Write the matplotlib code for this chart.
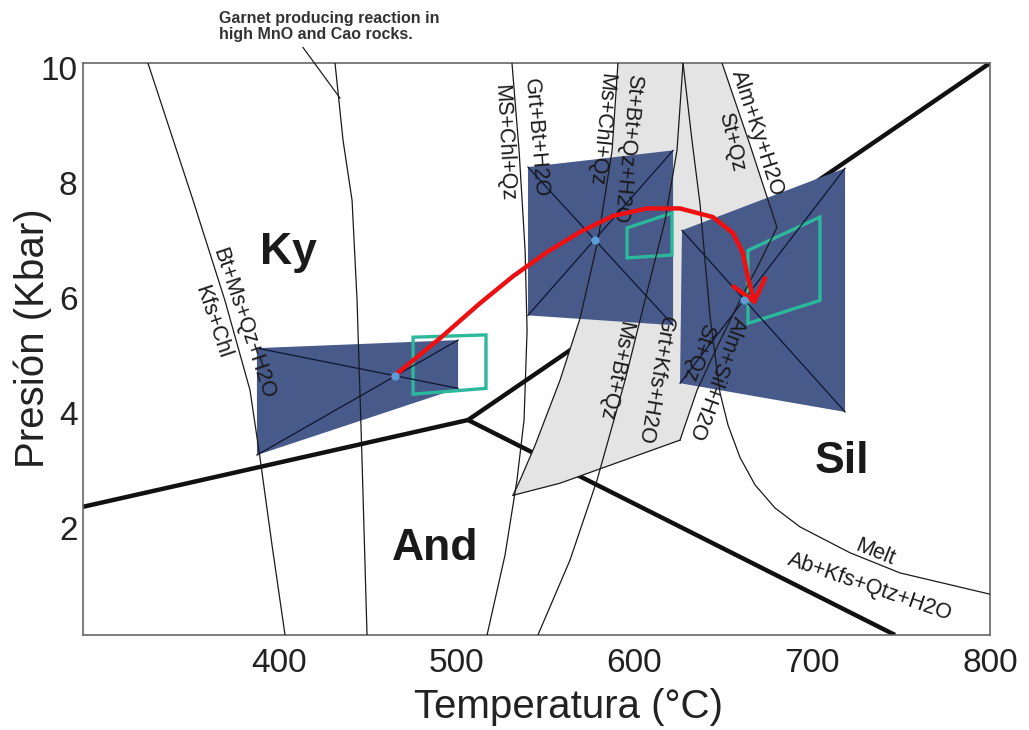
import matplotlib
matplotlib.use("Agg")
import matplotlib.pyplot as plt
from matplotlib.patches import Polygon, FancyArrowPatch
from matplotlib.path import Path

plt.rcParams['font.family'] = ['Liberation Sans', 'DejaVu Sans']

# ---- axes ----
T_LIM = (290, 800)
P_LIM = (0.14, 10.09)
x_ticks = [400, 500, 600, 700, 800]
y_ticks = [2, 4, 6, 8, 10]

# ---- Al2SiO5 triple point and univariant lines (T in C, P in kbar) ----
triple_point = (506.5, 3.88)
ky_and_end = (290.0, 2.37)
ky_sil_end = (800.0, 10.09)
and_sil_end = (746.6, 0.14)

# ---- reaction curves ----
bt_ms_T = [326.5, 351.9, 369.8, 383.9, 389.5, 396.3, 403.6]
bt_ms_P = [10.09, 7.70, 5.96, 4.40, 3.23, 1.70, 0.14]

garnet_T = [431.7, 436.2, 441.3, 444.1, 446.9, 449.7]
garnet_P = [10.09, 8.75, 7.70, 5.96, 3.18, 0.14]

chl_grt_T = [531.2, 535.2, 538.6, 539.7, 538.0, 534.0, 527.3, 517.2]
chl_grt_P = [10.09, 8.57, 6.83, 5.44, 3.88, 2.83, 1.53, 0.14]

st_in_T = [590.8, 587.5, 579.6, 569.5, 558.2, 544.2, 535.7, 531.8]
st_in_P = [10.09, 8.57, 7.01, 5.65, 4.57, 3.44, 2.83, 2.57]

ms_out_T = [627.4, 624.0, 617.3, 608.8, 594.8, 579.0, 563.8, 545.8]
ms_out_P = [10.09, 8.57, 7.35, 6.31, 4.57, 2.83, 1.44, 0.14]

melt_T = [627.4, 632.4, 636.9, 642.6, 648.2, 652.7, 659.4, 667.9, 679.1, 693.2, 721.3, 749.4, 800.0]
melt_P = [10.09, 8.75, 7.65, 5.67, 4.35, 3.79, 3.23, 2.75, 2.35, 2.02, 1.57, 1.22, 0.85]

st_out_T = [649.3, 665.1, 680.2, 670.7, 659.4, 647.0, 635.3, 625.7]
st_out_P = [10.09, 8.66, 7.23, 6.63, 5.96, 5.18, 4.40, 3.53]

band_base_T = [531.8, 558.2, 580.7, 625.7]
band_base_P = [2.57, 2.78, 3.03, 3.53]

# ---- P-T estimate boxes (corners: TL, TR, BR, BL) ----
box1_T = [387.8, 500.9, 500.9, 387.8]
box1_P = [5.13, 5.27, 4.43, 3.27]
box2_T = [540.2, 621.8, 621.8, 540.2]
box2_P = [8.28, 8.57, 5.53, 5.70]
box3_T = [626.8, 718.5, 718.5, 625.7]
box3_P = [7.18, 8.26, 4.02, 4.52]

# ---- inner windows ----
win1_T = [475.6, 516.6, 516.6, 475.6]
win1_P = [5.32, 5.36, 4.43, 4.33]
win2_T = [595.9, 621.2, 621.2, 595.9]
win2_P = [7.22, 7.48, 6.75, 6.70]
win3_T = [663.9, 704.4, 704.4, 663.9]
win3_P = [6.83, 7.41, 5.96, 5.56]

# ---- P-T path ----
path_T = [464.3, 490.7, 513.2, 531.8, 550.9, 569.5, 588.0, 607.1, 625.7, 644.2, 655.5, 661.1, 663.9, 667.9]
path_P = [4.63, 5.30, 5.91, 6.38, 6.80, 7.15, 7.43, 7.56, 7.56, 7.41, 7.13, 6.78, 6.36, 5.88]

BOX_COLOR = "#475a8a"
BAND_COLOR = "#e4e4e4"
WIN_COLOR = "#2bb89b"
PATH_COLOR = "#ee1010"
DOT_COLOR = "#5b9bd8"

fig = plt.figure(figsize=(10.29, 7.30), dpi=100)
ax = fig.add_axes([83 / 1029, 1 - 635 / 730, 907 / 1029, 572 / 730])
ax.set_xlim(*T_LIM)
ax.set_ylim(*P_LIM)

# grey staurolite band
band = list(zip(st_in_T, st_in_P)) + list(zip(band_base_T[1:], band_base_P[1:])) \
    + list(zip(st_out_T[::-1][1:], st_out_P[::-1][1:]))
ax.add_patch(Polygon(band, closed=True, facecolor=BAND_COLOR, edgecolor="none", zorder=1))

# Al2SiO5 phase boundaries
for end in (ky_and_end, ky_sil_end, and_sil_end):
    ax.plot([triple_point[0], end[0]], [triple_point[1], end[1]],
            color="#111111", lw=3.2, solid_capstyle="butt", zorder=0.5)


def diag_cross(bt, bp):
    # intersection of the two diagonals TL-BR and BL-TR
    x1, y1, x2, y2 = bt[0], bp[0], bt[2], bp[2]
    x3, y3, x4, y4 = bt[3], bp[3], bt[1], bp[1]
    d = (x1 - x2) * (y3 - y4) - (y1 - y2) * (x3 - x4)
    a = x1 * y2 - y1 * x2
    b = x3 * y4 - y3 * x4
    return ((a * (x3 - x4) - (x1 - x2) * b) / d, (a * (y3 - y4) - (y1 - y2) * b) / d)


for bt, bp in ((box1_T, box1_P), (box2_T, box2_P), (box3_T, box3_P)):
    ax.add_patch(Polygon(list(zip(bt, bp)), closed=True, facecolor=BOX_COLOR,
                         edgecolor="none", zorder=2))
    ax.plot([bt[0], bt[2]], [bp[0], bp[2]], color="#0d1530", lw=0.9, zorder=4)
    ax.plot([bt[3], bt[1]], [bp[3], bp[1]], color="#0d1530", lw=0.9, zorder=4)
    cx, cy = diag_cross(bt, bp)
    ax.plot(cx, cy, "o", ms=6, color=DOT_COLOR, mec="none", zorder=7)

for wt, wp in ((win1_T, win1_P), (win2_T, win2_P), (win3_T, win3_P)):
    ax.add_patch(Polygon(list(zip(wt, wp)), closed=True, facecolor="none",
                         edgecolor=WIN_COLOR, lw=2.4, zorder=3))

# thin reaction curves
for xs, ys in ((bt_ms_T, bt_ms_P), (garnet_T, garnet_P), (chl_grt_T, chl_grt_P),
               (st_in_T, st_in_P), (ms_out_T, ms_out_P), (melt_T, melt_P),
               (st_out_T, st_out_P), (band_base_T, band_base_P)):
    ax.plot(xs, ys, color="#1a1a1a", lw=0.9, zorder=4)

# P-T path arrow
ax.add_patch(FancyArrowPatch(path=Path(list(zip(path_T, path_P))),
                             arrowstyle="->,head_length=0.55,head_width=0.45",
                             mutation_scale=26, color=PATH_COLOR, lw=3.2,
                             zorder=6, joinstyle="round", capstyle="round"))

# stability field names
for name, t, p in (("Ky", 405.3, 6.80), ("And", 487.9, 1.65), ("Sil", 716.8, 3.15)):
    ax.text(t, p, name, fontsize=32, fontweight="bold", color="#1a1a1a",
            ha="center", va="center", zorder=5)

# reaction labels: (text, T, P, rotation)
reaction_labels = [
    ("Bt+Ms+Qz+H2O", 380.3, 5.55, -71.5),
    ("Kfs+Chl", 362.8, 5.58, -71.5),
    ("MS+Chl+Qz", 526.7, 8.70, -87),
    ("Grt+Bt+H2O", 544.2, 8.78, -85),
    ("Ms+Chl+Qz", 581.3, 8.94, -96),
    ("St+Bt+Qz+H2O", 595.9, 8.61, -96),
    ("Alm+Ky+H2O", 669.0, 8.87, -72),
    ("St+Qz", 654.4, 8.71, -77),
    ("Grt+Kfs+H2O", 611.6, 4.57, -100),
    ("Ms+Bt+Qz", 589.1, 4.73, -102),
    ("Alm+Sil+H2O", 646.5, 4.61, -110),
    ("St+Qz", 635.8, 5.06, -110),
    ("Melt", 735.3, 1.57, -22),
    ("Ab+Kfs+Qtz+H2O", 732.5, 0.97, -19),
]
for txt, t, p, rot in reaction_labels:
    ax.text(t, p, txt, fontsize=15.5, rotation=rot, rotation_mode="anchor",
            ha="center", va="center", color="#1a1a1a", zorder=5)

# garnet reaction note with leader line
ax.plot([413.7, 434.5], [10.36, 9.48], color="#222222", lw=0.9, clip_on=False, zorder=5)
fig.text(219 / 1029, 1 - 11 / 730, "Garnet producing reaction in\nhigh MnO and Cao rocks.",
         fontsize=11.5, fontweight="bold", color="#333333", ha="left", va="top",
         linespacing=1.05)

# axes styling
for s in ax.spines.values():
    s.set_color("#666666")
    s.set_linewidth(1.2)
ax.set_xticks(x_ticks)
ax.set_yticks(y_ticks)
ax.tick_params(length=0, labelsize=24, labelcolor="#222222")
ax.tick_params(axis="x", pad=9)
ax.tick_params(axis="y", pad=4)
ax.set_xlabel("Temperatura (°C)", fontsize=29, color="#222222", va="top")
ax.set_ylabel("Presión (Kbar)", fontsize=29, color="#222222", va="center")
ax.xaxis.set_label_coords((568 - 83) / 907, (635 - 688) / 572)
ax.yaxis.set_label_coords((33 - 83) / 907, (635 - 338) / 572)

fig.savefig("out.png", dpi=100)
